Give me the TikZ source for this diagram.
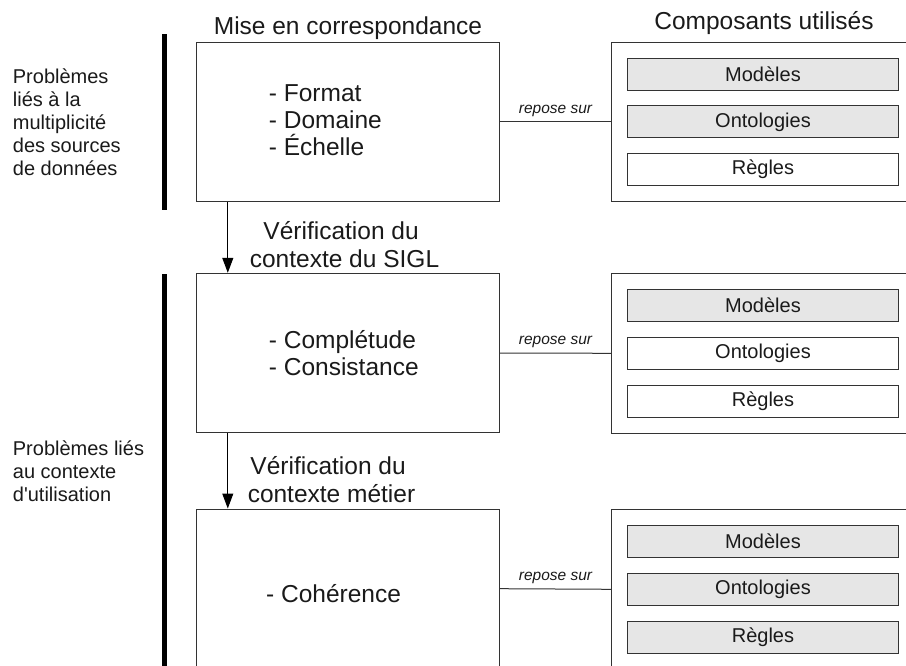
\documentclass[tikz,border=0pt]{standalone}
\usepackage{fontspec}
\setmainfont{Liberation Sans}
\usepackage{tikz}
\usetikzlibrary{arrows.meta,positioning}

\definecolor{trait}{HTML}{333333}
\definecolor{fond}{HTML}{E6E6E6}
\definecolor{texte}{HTML}{1A1A1A}

\begin{document}
\begin{tikzpicture}[x=1pt,y=-1pt,
	cadre/.style={draw=trait,line width=1pt,minimum width=302.6pt,minimum height=159.4pt,inner sep=0pt},
	panneau/.style={cadre,minimum width=308pt},
	brique/.style={draw=trait,line width=1pt,minimum width=271.4pt,minimum height=32pt,inner sep=0pt,
		text=texte,font=\fontsize{20}{23}\selectfont},
	liste/.style={anchor=north west,align=left,inner sep=0pt,text=texte,font=\fontsize{24.5}{27}\selectfont},
	titre/.style={inner sep=0pt,text=texte,font=\fontsize{24.5}{28}\selectfont},
	gauche/.style={anchor=north west,align=left,inner sep=0pt,text=texte,font=\fontsize{20}{23}\selectfont},
	repose/.style={inner sep=0pt,above=5pt,text=texte,font=\fontsize{15.5}{18}\selectfont\itshape},
	lien/.style={draw=trait,line width=1pt},
	fleche/.style={draw=black,line width=1pt,-{Triangle[length=15pt,width=11pt]}},
	barre/.style={draw=black,line width=5pt}]
\useasboundingbox (0,0) rectangle (906,666);
\clip (0,0) rectangle (906,666);

% etapes
\node[cadre] (etape1) at (348,122) {};
\node[cadre] (etape2) at (348,353) {};
\node[cadre] (etape3) at (348,588.7) {};
\node[liste] (liste1) at (268.7,84.2) {- Format\\- Domaine\\- Échelle};
\node[liste] (liste2) at (268.7,330.1) {- Complétude\\- Consistance};
\node[liste] (liste3) at (266,583.8) {- Cohérence};

% titres
\node[titre,anchor=base] (titre1) at (348,34.3) {Mise en correspondance};
\node[titre,anchor=base] (titre2) at (764,29.3) {Composants utilisés};

% composants
\node[panneau] (comp1) at (765.7,122) {};
\node[panneau] (comp2) at (765.7,353.3) {};
\node[panneau] (comp3) at (765.7,589.3) {};
\node[brique,fill=fond] (mod1) at (763,74.3) {Modèles};
\node[brique,fill=fond] (onto1) at (763,122) {Ontologies};
\node[brique] (regle1) at (763,169.7) {Règles};
\node[brique,fill=fond] (mod2) at (763,305.5) {Modèles};
\node[brique] (onto2) at (763,353.3) {Ontologies};
\node[brique] (regle2) at (763,401.3) {Règles};
\node[brique,fill=fond] (mod3) at (763,541.7) {Modèles};
\node[brique,fill=fond] (onto3) at (763,589.3) {Ontologies};
\node[brique,fill=fond] (regle3) at (763,637) {Règles};

% liens
\draw[lien] (etape1.east) -- node[repose] {repose sur} (comp1.west);
\draw[lien] (etape2.east) -- node[repose] {repose sur} (comp2.west);
\draw[lien] (etape3.east) -- node[repose] {repose sur} (comp3.west);

% fleches
\draw[fleche] ([xshift=31.6pt]etape1.south west) -- ([xshift=31.6pt]etape2.north west);
\draw[fleche] ([xshift=31.6pt]etape2.south west) -- ([xshift=31.6pt]etape3.north west);
\node[titre,anchor=north,align=center] (verif1) at (344.5,221.6) {Vérification du\kern0.278em\\contexte du SIGL};
\node[titre,anchor=north,align=center] (verif2) at (331.5,456.6) {Vérification du\kern0.278em\\contexte métier};

% problemes
\draw[barre] (164.8,34.3) -- (164.8,210);
\draw[barre] (164.8,274) -- (164.8,680);
\node[gauche] (pb1) at (12.7,68.7) {Problèmes\\liés à la\\multiplicité\\des sources\\de données};
\node[gauche] (pb2) at (12.7,440.4) {Problèmes liés\\au contexte\\d\textquotesingle utilisation};

\end{tikzpicture}
\end{document}
